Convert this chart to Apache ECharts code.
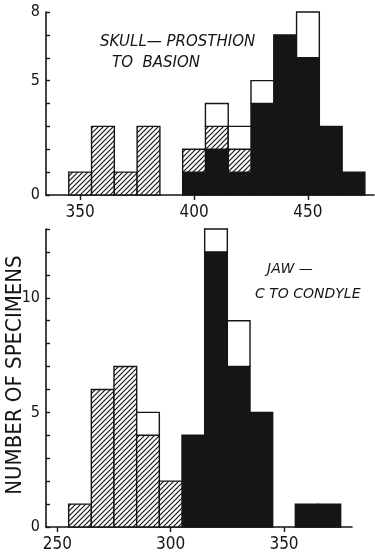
<!DOCTYPE html>
<html>
<head>
<meta charset="utf-8">
<script src="https://cdn.jsdelivr.net/npm/echarts@6/dist/echarts.min.js"></script>
<style>
  html, body { margin: 0; padding: 0; background: #fff; }
  #chart { width: 375px; height: 558px; }
</style>
</head>
<body>
<div id="chart"></div>
<script>
// skull, prosthion to basion (bin centres, width 10)
const skullBins = [350, 360, 370, 380, 390, 400, 410, 420, 430, 440, 450, 460, 470]
const skullBlack = [0, 0, 0, 0, 0, 1, 2, 1, 4, 7, 6, 3, 1]
const skullHatch = [1, 3, 1, 3, 0, 1, 1, 1, 0, 0, 0, 0, 0]
const skullWhite = [0, 0, 0, 0, 0, 0, 1, 1, 1, 0, 2, 0, 0]

// jaw, C to condyle
const jawBins = [260, 270, 280, 290, 300, 310, 320, 330, 340, 350, 360, 370]
const jawBlack = [0, 0, 0, 0, 0, 4, 12, 7, 5, 0, 1, 1]
const jawHatch = [1, 6, 7, 4, 2, 0, 0, 0, 0, 0, 0, 0]
const jawWhite = [0, 0, 0, 1, 0, 0, 1, 2, 0, 0, 0, 0]

const skullXLabels = [350, 400, 450]
const skullYLabels = [0, 5, 8]
const jawXLabels = [250, 300, 350]
const jawYLabels = [0, 5, 10]

const BIN = 10
const INK = '#151515'
const FONT = '"DejaVu Sans Condensed", "DejaVu Sans"'

function hatchPattern() {
  const s = 5
  const c = document.createElement('canvas')
  c.width = s
  c.height = s
  const ctx = c.getContext('2d')
  ctx.fillStyle = '#fff'
  ctx.fillRect(0, 0, s, s)
  ctx.strokeStyle = INK
  ctx.lineWidth = 1.2
  ctx.beginPath()
  ctx.moveTo(0, s); ctx.lineTo(s, 0)
  ctx.moveTo(-1, 1); ctx.lineTo(1, -1)
  ctx.moveTo(s - 1, s + 1); ctx.lineTo(s + 1, s - 1)
  ctx.stroke()
  return { image: c, repeat: 'repeat' }
}
const hatch = hatchPattern()

function rectSeries(idx, bins, vals, bases, fill) {
  return {
    type: 'custom',
    xAxisIndex: idx,
    yAxisIndex: idx,
    data: bins.map((b, i) => [b, bases[i], vals[i]]),
    encode: { x: 0, y: 1 },
    renderItem(params, api) {
      const x = api.value(0)
      const b = api.value(1)
      const v = api.value(2)
      if (!v) return
      const p0 = api.coord([x - BIN / 2, b])
      const p1 = api.coord([x + BIN / 2, b + v])
      return {
        type: 'rect',
        shape: { x: p0[0], y: p1[1], width: p1[0] - p0[0], height: p0[1] - p1[1] },
        style: { fill: fill, stroke: INK, lineWidth: 1.4 }
      }
    },
    silent: true,
    animation: false
  }
}

function stackSeries(idx, bins, black, hatchVals, white) {
  const zero = bins.map(() => 0)
  const hb = black.slice()
  const wb = black.map((v, i) => v + hatchVals[i])
  return [
    rectSeries(idx, bins, black, zero, INK),
    rectSeries(idx, bins, hatchVals, hb, hatch),
    rectSeries(idx, bins, white, wb, '#fff')
  ]
}

function xAxis(idx, min, max, labels) {
  return {
    type: 'value',
    gridIndex: idx,
    min: min,
    max: max,
    splitLine: { show: false },
    axisLine: { onZero: false, lineStyle: { color: INK, width: 1.6 } },
    axisTick: { customValues: labels, length: 5, lineStyle: { color: INK, width: 1.4 } },
    axisLabel: { customValues: labels, color: INK, fontSize: 17, fontFamily: FONT, margin: 9 }
  }
}

function yAxis(idx, max, labels) {
  return {
    type: 'value',
    gridIndex: idx,
    min: 0,
    max: max,
    interval: 1,
    splitLine: { show: false },
    axisLine: { lineStyle: { color: INK, width: 1.6 } },
    axisTick: { inside: true, length: 4, lineStyle: { color: INK, width: 1.4 } },
    axisLabel: { customValues: labels, color: INK, fontSize: 16, fontFamily: FONT, margin: 6 }
  }
}

const chart = echarts.init(document.getElementById('chart'))
chart.setOption({
  backgroundColor: '#fff',
  animation: false,
  grid: [
    { left: 46, top: 12, width: 328, height: 183 },
    { left: 46, top: 229, width: 306, height: 298 }
  ],
  xAxis: [xAxis(0, 335, 479, skullXLabels), xAxis(1, 245, 380, jawXLabels)],
  yAxis: [yAxis(0, 8, skullYLabels), yAxis(1, 13, jawYLabels)],
  graphic: [
    { type: 'text', left: 100, top: 35, style: { text: 'SKULL— PROSTHION', font: 'italic 15px "DejaVu Sans"', fill: INK } },
    { type: 'text', left: 112, top: 56, style: { text: 'TO  BASION', font: 'italic 15px "DejaVu Sans"', fill: INK } },
    { type: 'text', left: 267, top: 262, style: { text: 'JAW —', font: 'italic 14px "DejaVu Sans"', fill: INK } },
    { type: 'text', left: 255, top: 287, style: { text: 'C TO CONDYLE', font: 'italic 14px "DejaVu Sans"', fill: INK } },
    {
      type: 'text', x: 15, y: 375, rotation: Math.PI / 2,
      style: { text: 'NUMBER OF SPECIMENS', font: '22px "DejaVu Sans Condensed", "DejaVu Sans"', fill: INK, align: 'center', verticalAlign: 'middle' }
    }
  ],
  series: [
    ...stackSeries(0, skullBins, skullBlack, skullHatch, skullWhite),
    ...stackSeries(1, jawBins, jawBlack, jawHatch, jawWhite)
  ]
})
</script>
</body>
</html>
